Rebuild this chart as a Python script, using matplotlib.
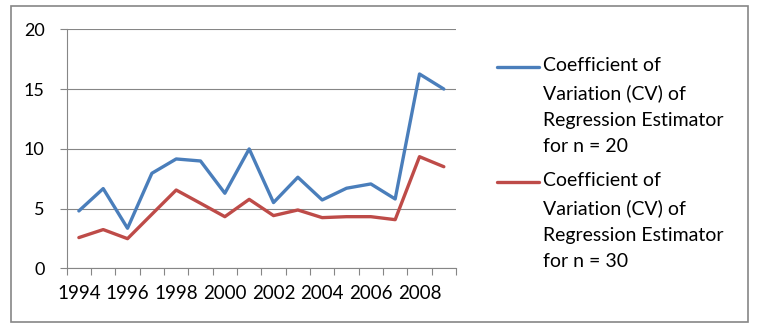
import matplotlib
matplotlib.use("Agg")
import matplotlib.pyplot as plt
from matplotlib.lines import Line2D
from matplotlib.patches import Rectangle

# dados
anos = list(range(1994, 2010))
cv_n20 = [4.8, 6.67, 3.35, 7.95, 9.15, 8.98, 6.28, 9.99, 5.5, 7.62, 5.72, 6.7, 7.06, 5.8, 16.26, 15.0]
cv_n30 = [2.57, 3.24, 2.48, 4.52, 6.55, 5.44, 4.32, 5.77, 4.41, 4.88, 4.24, 4.32, 4.32, 4.07, 9.34, 8.5]
nomes = [
    "Coefficient of\nVariation (CV) of\nRegression Estimator\nfor n = 20",
    "Coefficient of\nVariation (CV) of\nRegression Estimator\nfor n = 30",
]
cores = ["#4A7EBB", "#BE4B48"]
cinza = "#868686"

plt.rcParams["font.family"] = ["Lato", "DejaVu Sans"]

W, H = 758, 330
fig = plt.figure(figsize=(W / 100, H / 100), dpi=100)
ax = fig.add_axes([66.7 / W, 1 - 268.3 / H, (456 - 66.7) / W, (268.3 - 29.3) / H])

x = list(range(len(anos)))
for serie, cor in zip([cv_n20, cv_n30], cores):
    ax.plot(x, serie, color=cor, lw=2.4, solid_capstyle="round", solid_joinstyle="round", zorder=3)

ax.set_xlim(-0.5, len(anos) - 0.5)
ax.set_ylim(0, 20)
ax.set_yticks([0, 5, 10, 15, 20])
ax.set_xticks(x[::2])
ax.set_xticklabels([str(a) for a in anos[::2]])
ax.set_xticks([i - 0.5 for i in range(len(anos) + 1)], minor=True)
ax.tick_params(axis="x", which="major", length=0, pad=12, labelsize=13.5)
ax.tick_params(axis="x", which="minor", length=5, width=0.8, color=cinza)
ax.tick_params(axis="y", length=5, width=0.8, color=cinza, pad=11, labelsize=13)
ax.yaxis.grid(True, color=cinza, lw=0.8)
ax.set_axisbelow(True)
for s in ["top", "right"]:
    ax.spines[s].set_visible(False)
for s in ["left", "bottom"]:
    ax.spines[s].set_color(cinza)
    ax.spines[s].set_linewidth(0.8)

# legenda desenhada à mão, linha alinhada com a primeira linha do texto
for i, (nome, cor) in enumerate(zip(nomes, cores)):
    y0 = 67 + i * 115
    fig.add_artist(Line2D([497 / W, 539 / W], [1 - y0 / H] * 2, color=cor, lw=2.4,
                          solid_capstyle="round"))
    fig.text(543 / W, 1 - (y0 - 10) / H, nome, fontsize=14, va="top", ha="left",
             linespacing=1.68)

fig.add_artist(Rectangle((11 / W, 1 - 322 / H), 737 / W, 316 / H, transform=fig.transFigure,
                         fill=False, edgecolor=cinza, lw=1.2))

fig.savefig("out.png", dpi=100)
